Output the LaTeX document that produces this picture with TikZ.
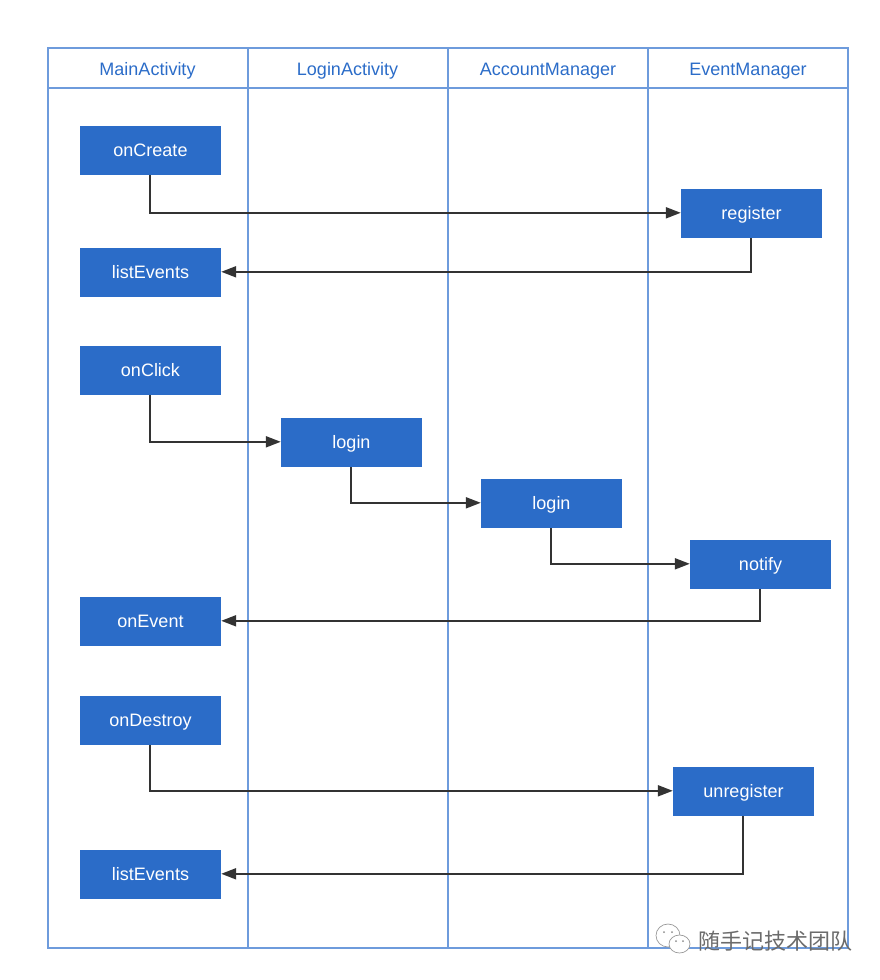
\documentclass[tikz,border=0pt]{standalone}
\usepackage{fontspec}
\setmainfont{Liberation Sans}
\newfontfamily\cjkwm{Noto Sans CJK SC}
\usetikzlibrary{arrows.meta}
\definecolor{laneblue}{HTML}{2B6CC8}
\definecolor{lanelight}{HTML}{6E9BDC}
\definecolor{boxblue}{HTML}{2B6CC8}
\definecolor{flowdark}{HTML}{333333}
\tikzset{
  x=1pt,y=-1pt,
  lane/.style={draw=lanelight,line width=1.2pt},
  head/.style={text=laneblue,inner sep=0pt,text height=18pt,text depth=4pt,font=\fontsize{18}{20}\selectfont},
  stepbox/.style={fill=boxblue,text=white,minimum width=141pt,minimum height=49pt,inner sep=0pt,text height=16.4pt,text depth=4pt,font=\fontsize{18}{20}\selectfont},
  flowline/.style={draw=flowdark,line width=2pt,-{Triangle[length=15pt,width=11pt]}},
  bubble/.style={draw=black!40,fill=white,line width=0.7pt},
}
\newcommand{\flowpath}[3]{\draw[flowline] ([xshift=-0.7pt]#1.south) |- ([yshift=0.7pt]#2.#3);}
\begin{document}
\begin{tikzpicture}
\useasboundingbox (0,0) rectangle (880,980);
% lanes
\draw[lane] (48,48) rectangle (848,948);
\draw[lane] (48,88) -- (848,88);
\draw[lane] (248,48) -- (248,948);
\draw[lane] (448,48) -- (448,948);
\draw[lane] (648,48) -- (648,948);
\node[head] (h1) at (147.5,68) {MainActivity};
\node[head] (h2) at (347.5,68) {LoginActivity};
\node[head] (h3) at (548,68) {AccountManager};
\node[head] (h4) at (748,68) {EventManager};
% boxes
\node[stepbox] (a) at (150.5,150.5) {onCreate};
\node[stepbox] (b) at (751.5,213.5) {register};
\node[stepbox] (c) at (150.5,272.5) {listEvents};
\node[stepbox] (d) at (150.5,370.5) {onClick};
\node[stepbox] (e) at (351.5,442.5) {login};
\node[stepbox] (f) at (551.5,503.5) {login};
\node[stepbox] (g) at (760.5,564.5) {notify};
\node[stepbox] (h) at (150.5,621.5) {onEvent};
\node[stepbox] (i) at (150.5,720.5) {onDestroy};
\node[stepbox] (j) at (743.5,791.5) {unregister};
\node[stepbox] (k) at (150.5,874.5) {listEvents};
% connectors
\flowpath{a}{b}{west}
\flowpath{b}{c}{east}
\flowpath{d}{e}{west}
\flowpath{e}{f}{west}
\flowpath{f}{g}{west}
\flowpath{g}{h}{east}
\flowpath{i}{j}{west}
\flowpath{j}{k}{east}
% watermark
\draw[bubble] (668,935.5) ellipse (12pt and 11.5pt);
\draw[bubble] (679.5,944) ellipse (10.5pt and 9pt);
\fill[black!45] (664,932) circle (1pt) (672,932) circle (1pt) (676,941) circle (1pt) (683,941) circle (1pt);
\node[text=black!58,font=\cjkwm\fontsize{22}{24}\selectfont,inner sep=0pt] (w) at (775,941) {随手记技术团队};
\end{tikzpicture}
\end{document}
